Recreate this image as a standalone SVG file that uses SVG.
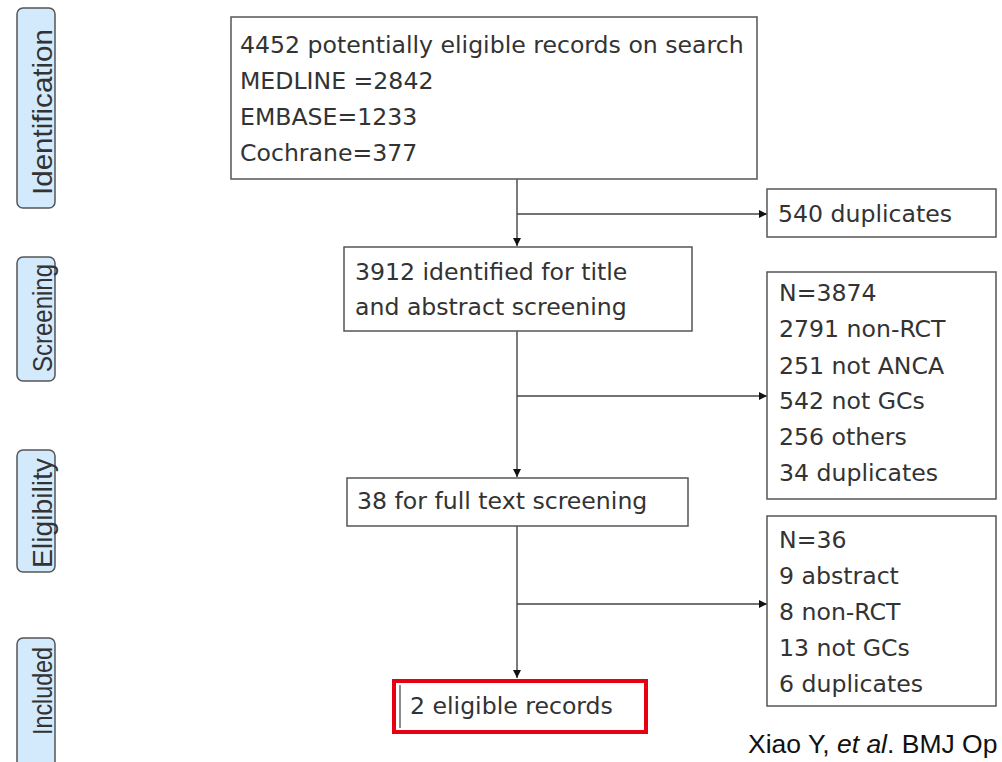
<svg xmlns="http://www.w3.org/2000/svg" width="1002" height="762" viewBox="0 0 1002 762">
<defs>
<marker id="arr" viewBox="0 0 10 10" refX="10" refY="5" markerWidth="8" markerHeight="8" markerUnits="userSpaceOnUse" orient="auto">
<path d="M0,0 L10,5 L0,10 z" fill="#111"/>
</marker>
<style>
.stage rect{fill:#d3eafc;stroke:#555;stroke-width:1.5}
.stage text{font-family:"Liberation Sans",Arial,sans-serif;font-size:28px;fill:#333;text-anchor:middle}
.box rect{fill:#fff;stroke:#555;stroke-width:1.5}
.box text{font-family:"DejaVu Sans","Noto Sans",sans-serif;font-size:23.6px;fill:#333}
.conn line{stroke:#444;stroke-width:1.4;fill:none}
.cite{font-family:"Liberation Sans",Arial,sans-serif;font-size:26.5px;fill:#111}
</style>
</defs>
<rect width="1002" height="762" fill="#fff"/>
<g id="stage-identification" class="stage"><rect x="17" y="8" width="38" height="200" rx="6"/><text transform="translate(52,112) rotate(-90)" textLength="166" lengthAdjust="spacingAndGlyphs">Identification</text></g>
<g id="stage-screening" class="stage"><rect x="17" y="257" width="38" height="124" rx="6"/><text transform="translate(52,318) rotate(-90)" textLength="108" lengthAdjust="spacingAndGlyphs">Screening</text></g>
<g id="stage-eligibility" class="stage"><rect x="17" y="450" width="38" height="122" rx="6"/><text transform="translate(52,513) rotate(-90)" textLength="110" lengthAdjust="spacingAndGlyphs">Eligibility</text></g>
<g id="stage-included" class="stage"><rect x="17" y="638" width="38" height="140" rx="6"/><text transform="translate(52,691) rotate(-90)" textLength="88" lengthAdjust="spacingAndGlyphs">Included</text></g>

<g id="connectors" class="conn">
<line x1="517" y1="179" x2="517" y2="246" marker-end="url(#arr)"/>
<line x1="517" y1="214" x2="767" y2="214" marker-end="url(#arr)"/>
<line x1="517" y1="331" x2="517" y2="477" marker-end="url(#arr)"/>
<line x1="517" y1="396" x2="767" y2="396" marker-end="url(#arr)"/>
<line x1="517" y1="526" x2="517" y2="678" marker-end="url(#arr)"/>
<line x1="517" y1="604" x2="767" y2="604" marker-end="url(#arr)"/>
</g>

<g id="n-search" class="box"><rect x="231" y="17" width="526" height="162"/>
<text x="240" y="53">4452 potentially eligible records on search</text>
<text x="240" y="89">MEDLINE =2842</text>
<text x="240" y="125">EMBASE=1233</text>
<text x="240" y="161">Cochrane=377</text></g>

<g id="n-dup540" class="box"><rect x="767" y="189" width="229" height="48"/>
<text x="778" y="222">540 duplicates</text></g>

<g id="n-screen" class="box"><rect x="344" y="247" width="348" height="84"/>
<text x="355" y="280">3912 identified for title</text>
<text x="355" y="315">and abstract screening</text></g>

<g id="n-excl1" class="box"><rect x="767" y="272" width="229" height="227"/>
<text x="779" y="301">N=3874</text>
<text x="779" y="337">2791 non-RCT</text>
<text x="779" y="374">251 not ANCA</text>
<text x="779" y="409">542 not GCs</text>
<text x="779" y="445">256 others</text>
<text x="779" y="481">34 duplicates</text></g>

<g id="n-full" class="box"><rect x="347" y="478" width="341" height="48"/>
<text x="357" y="509">38 for full text screening</text></g>

<g id="n-excl2" class="box"><rect x="767" y="516" width="229" height="190"/>
<text x="779" y="548">N=36</text>
<text x="779" y="584">9 abstract</text>
<text x="779" y="620">8 non-RCT</text>
<text x="779" y="656">13 not GCs</text>
<text x="779" y="692">6 duplicates</text></g>

<g id="n-included" class="box"><rect x="394" y="681" width="252" height="51" style="stroke:#e60012;stroke-width:4"/>
<line x1="400" y1="685" x2="400" y2="728" stroke="#666" stroke-width="1.5"/>
<text x="410" y="714">2 eligible records</text></g>

<text class="cite" x="748" y="753">Xiao Y, <tspan font-style="italic">et al</tspan>. BMJ Op</text>
</svg>
